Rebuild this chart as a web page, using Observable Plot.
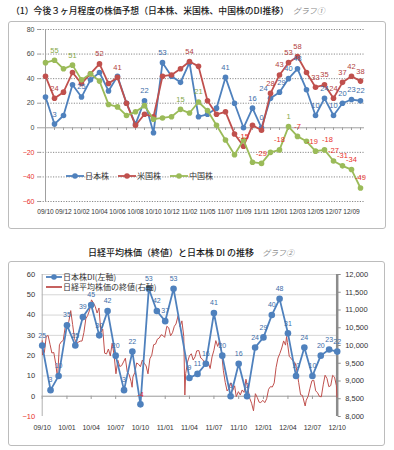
<!DOCTYPE html>
<html><head><meta charset="utf-8">
<script src="https://cdn.jsdelivr.net/npm/d3@7"></script>
<script src="https://cdn.jsdelivr.net/npm/@observablehq/plot@0.6"></script>
<style>
body{margin:0;background:#fff;font-family:"Liberation Sans",Arial,sans-serif;}
#root{position:relative;width:394px;height:450px;overflow:hidden;background:#fff;}
.box{position:absolute;border:1px solid #bcbcbc;border-radius:3px;box-sizing:border-box;}
.title{position:absolute;font-family:"Noto Sans CJK JP";white-space:nowrap;color:#1a1a1a;font-weight:500;line-height:1;}
.sub{color:#8c8c8c;font-style:italic;font-weight:400;}
.chart{position:absolute;}
.legend{position:absolute;font-family:"Noto Sans CJK JP";font-size:8px;color:#333;white-space:nowrap;display:flex;align-items:center;line-height:1;}
.legend svg{display:block;}
</style></head><body>
<div id="root">
  <div class="title" style="left:11px;top:7px;font-size:8.8px;">（1）今後３ヶ月程度の株価予想（日本株、米国株、中国株のDI推移）<span class="sub" style="font-size:8px;margin-left:4px;">グラフ①</span></div>
  <div class="box" style="left:8px;top:21px;width:378px;height:208px;"></div>
  <div id="c1" class="chart" style="left:8px;top:22px;"></div>
  <div id="lg1" class="legend" style="left:66px;top:170px;height:12px;"></div>

  <div class="title" style="left:88px;top:248px;font-size:9px;">日経平均株価（終値）と日本株 DI の推移<span class="sub" style="font-size:8px;margin-left:8px;">グラフ②</span></div>
  <div class="box" style="left:8px;top:261px;width:377px;height:185px;"></div>
  <div id="c2" class="chart" style="left:8px;top:262px;"></div>
  <div id="lg2" class="legend" style="left:46px;top:272px;flex-direction:column;align-items:flex-start;"></div>
</div>
<script>
// ---------- Chart 1 data ----------
const cats1 = ["09/10","09/11","09/12","10/01","10/02","10/03","10/04","10/05","10/06","10/07","10/08","10/09","10/10","10/11","10/12","11/01","11/02","11/04","11/05","11/06","11/07","11/08","11/09","11/10","11/11","11/12","12/01","12/02","12/03","12/04","12/05","12/06","12/07","12/08","12/09","12/10"];
const jp = [25,3,10,35,25,39,45,30,42,20,3,22,-4,53,42,37,53,9,11,16,41,20,0,16,0,24,29,40,48,31,10,24,10,20,23,22];
const us = [42,24,29,45,36,44,52,36,41,20,2,11,9,42,43,48,54,50,22,11,13,-5,-15,2,-2,28,43,53,58,45,33,35,24,37,42,38];
const cn = [53,55,48,51,39,44,38,19,17,10,13,18,7,8,9,15,12,21,14,2,-10,-22,-10,-28,-29,-20,-18,1,-7,-11,-19,-18,-27,-31,-34,-49];
const jpLab = ["09/11","10/02","10/09","10/11","11/07","11/10","11/11","11/12","12/01","12/02","12/03","12/05","12/06","12/07","12/08","12/09","12/10"];
const usLab = ["09/11","10/04","10/06","11/02","11/09","11/12","12/01","12/02","12/03","12/05","12/06","12/07","12/08","12/09","12/10"];
const cnLab = ["09/11","10/01","11/01","11/04","11/11","12/01","12/02","12/03","12/05","12/06","12/07","12/08","12/09","12/10"];
const xTicks1 = ["09/10","09/12","10/02","10/04","10/06","10/08","10/10","10/12","11/02","11/05","11/07","11/09","11/11","12/01","12/03","12/05","12/07","12/09"];
const yTicks1 = [80,60,40,20,0,-20,-40,-60];
const names1 = ["日本株","米国株","中国株"];

// ---------- Chart 2 data ----------
const nkDates = ["2009-10-01","2009-10-02","2009-10-09","2009-10-16","2009-10-23","2009-10-30","2009-11-06","2009-11-13","2009-11-20","2009-11-27","2009-12-04","2009-12-11","2009-12-18","2009-12-25","2009-12-30",
"2010-01-08","2010-01-15","2010-01-22","2010-01-29","2010-02-05","2010-02-12","2010-02-19","2010-02-26","2010-03-05","2010-03-12","2010-03-19","2010-03-26","2010-04-02","2010-04-09","2010-04-16","2010-04-23","2010-04-30","2010-05-07","2010-05-14","2010-05-21","2010-05-28","2010-06-04","2010-06-11","2010-06-18","2010-06-25","2010-07-02","2010-07-09","2010-07-16","2010-07-23","2010-07-30","2010-08-06","2010-08-13","2010-08-20","2010-08-27","2010-08-31","2010-09-03","2010-09-10","2010-09-17","2010-09-24","2010-10-01","2010-10-08","2010-10-15","2010-10-22","2010-10-29","2010-11-05","2010-11-12","2010-11-19","2010-11-26","2010-12-03","2010-12-10","2010-12-17","2010-12-24","2010-12-30",
"2011-01-07","2011-01-14","2011-01-21","2011-01-28","2011-02-04","2011-02-10","2011-02-18","2011-02-25","2011-03-04","2011-03-11","2011-03-15","2011-03-18","2011-03-25","2011-04-01","2011-04-08","2011-04-15","2011-04-22","2011-04-28","2011-05-06","2011-05-13","2011-05-20","2011-05-27","2011-06-03","2011-06-10","2011-06-17","2011-06-24","2011-07-01","2011-07-08","2011-07-15","2011-07-22","2011-07-29","2011-08-05","2011-08-12","2011-08-19","2011-08-26","2011-09-02","2011-09-09","2011-09-16","2011-09-22","2011-09-30","2011-10-07","2011-10-14","2011-10-21","2011-10-28","2011-11-04","2011-11-11","2011-11-18","2011-11-25","2011-12-02","2011-12-09","2011-12-16","2011-12-22","2011-12-30",
"2012-01-06","2012-01-13","2012-01-20","2012-01-27","2012-02-03","2012-02-10","2012-02-17","2012-02-24","2012-03-02","2012-03-09","2012-03-16","2012-03-23","2012-03-27","2012-03-30","2012-04-06","2012-04-13","2012-04-20","2012-04-27","2012-05-02","2012-05-11","2012-05-18","2012-05-25","2012-06-04","2012-06-08","2012-06-15","2012-06-22","2012-06-29","2012-07-06","2012-07-13","2012-07-20","2012-07-27","2012-08-03","2012-08-10","2012-08-17","2012-08-24","2012-08-31","2012-09-07","2012-09-14","2012-09-21","2012-09-28","2012-09-30"];
const nkClose = [10133,9731,9799,10258,10282,10034,9789,9804,9497,9081,10022,10107,10142,10494,10546,
10681,10982,10590,10198,10057,10092,10123,10126,10368,10751,10846,10996,11286,11204,11102,10914,11057,10364,10462,9784,9762,9901,9705,10067,9737,9203,9585,9408,9431,9537,9642,9253,9179,8991,8824,9114,9239,9509,9471,9404,9589,9501,9426,9202,9625,9725,10022,10040,10179,10212,10303,10279,10229,
10541,10499,10274,10360,10543,10605,10842,10527,10694,10254,8605,9207,9536,9708,9768,9591,9682,9849,9859,9648,9607,9521,9492,9514,9351,9678,9868,10137,9974,10132,9833,9299,8963,8719,8797,8950,8737,8864,8560,8700,8605,8747,8678,9050,8801,8514,8374,8160,8643,8536,8401,8395,8455,
8390,8500,8766,8841,8831,8947,9384,9647,9777,9929,10129,10011,10255,10083,9688,9637,9561,9520,9380,8953,8611,8593,8296,8459,8569,8798,9006,9021,8724,8669,8566,8555,8891,9163,9070,8839,8871,9159,9110,8870,8550];
const xTicks2 = ["2009-10-01","2010-01-01","2010-04-01","2010-07-01","2010-10-01","2011-01-01","2011-04-01","2011-07-01","2011-10-01","2012-01-01","2012-04-01","2012-07-01","2012-10-01"];
const yTicks2 = [60,50,40,30,20,10,0,-10];
const rightTicks = [8000,8500,9000,9500,10000,10500,11000,11500,12000];
const names2 = ["日本株DI(左軸)","日経平均株価の終値(右軸)"];

// ---------- styles ----------
const BLUE="#4f81bd", RED="#c0504d", GREEN="#9bbb59";
const NEG="#e8302c";
// small label nudges (px) to keep crowded labels legible
const nudge = {"jp|11/12":-7, "jp|12/01":2, "cn|12/05":-3, "cn|12/06":3};

// ---------- Chart 1 ----------
const mk = (arr,key) => cats1.map((c,i)=>({cat:c, v:arr[i], key}));
const dJP = mk(jp,"jp"), dUS = mk(us,"us"), dCN = mk(cn,"cn");
function labelMarks(d, list, col){
  const L = d.filter(r => list.includes(r.cat));
  const groups = d3.groups(L, r => (nudge[r.key+"|"+r.cat]||0) + "|" + (r.v<0));
  return groups.map(([g, rows]) => Plot.text(rows, {
    x:"cat", y:"v", text:r=>String(r.v), dy:-10, dx:+g.split("|")[0],
    fill: rows[0].v<0 ? NEG : col, fontSize:7.5}));
}
const c1 = Plot.plot({
  width:377, height:206, marginLeft:32, marginRight:21, marginTop:7, marginBottom:27,
  style:{fontFamily:"Liberation Sans, Arial, sans-serif", fontSize:"7px", color:"#333", background:"transparent", overflow:"visible"},
  x:{type:"point", domain:cats1, padding:0, label:null},
  y:{domain:[-60,80], label:null},
  marks:[
    Plot.gridY({ticks:yTicks1.filter(t=>t!==0), stroke:"#8a8a8a", strokeOpacity:1, strokeDasharray:"1.2,1.4"}),
    Plot.ruleY([0], {stroke:"#a0a0a0"}),
    Plot.ruleX(cats1, {y1:0, y2:-2.2, stroke:"#a0a0a0"}),
    Plot.ruleX([cats1[0]], {stroke:"#a0a0a0"}),
    Plot.axisY({ticks:yTicks1.filter(t=>t>=0), label:null, tickSize:3, tickPadding:3, fill:"#444", stroke:"#a0a0a0", fontSize:7}),
    Plot.axisY({ticks:yTicks1.filter(t=>t<0), label:null, tickSize:3, tickPadding:3, fill:NEG, stroke:"#a0a0a0", fontSize:7}),
    Plot.axisX({ticks:xTicks1, label:null, tickSize:0, tickPadding:8, fill:"#333", fontSize:6.6}),
    Plot.line(dJP, {x:"cat", y:"v", stroke:BLUE, strokeWidth:1.8}),
    Plot.dot(dJP, {x:"cat", y:"v", r:2.8, fill:BLUE}),
    Plot.line(dUS, {x:"cat", y:"v", stroke:RED, strokeWidth:1.8}),
    Plot.dot(dUS, {x:"cat", y:"v", r:2.8, fill:RED}),
    Plot.line(dCN, {x:"cat", y:"v", stroke:GREEN, strokeWidth:1.8}),
    Plot.dot(dCN, {x:"cat", y:"v", r:2.8, fill:GREEN}),
    ...labelMarks(dJP, jpLab, "#3d6da8"),
    ...labelMarks(dUS, usLab, "#b2413e"),
    ...labelMarks(dCN, cnLab, "#86a84a")
  ]
});
document.getElementById("c1").append(c1);

// legend 1
const icon = (col, w, dot) => `<svg width="${w}" height="8"><line x1="0" y1="4" x2="${w}" y2="4" stroke="${col}" stroke-width="1.8"/>${dot?`<circle cx="${w/2}" cy="4" r="2.8" fill="${col}"/>`:""}</svg>`;
document.getElementById("lg1").innerHTML = [BLUE,RED,GREEN].map((c,i)=>
  `<span style="display:flex;align-items:center;margin-right:${i<2?9:0}px">${icon(c,18,true)}<span style="margin-left:1px">${names1[i]}</span></span>`).join("");

// ---------- Chart 2 ----------
const toLeft = p => -10 + (p - 8000) / 4000 * 70;
const fromLeft = v => 8000 + (v + 10) / 70 * 4000;
const parseM = d3.utcParse("%y/%m");
const di = cats1.map((c,i)=>({date:parseM(c), v:jp[i]}));
const nk = nkDates.map((d,i)=>({date:new Date(d), v:toLeft(nkClose[i])}));
const xT2 = xTicks2.map(d=>new Date(d));
const d0 = xT2[0], d1 = xT2[xT2.length-1];
const c2 = Plot.plot({
  width:377, height:183, marginLeft:33.7, marginRight:48.3, marginTop:12, marginBottom:29,
  style:{fontFamily:"Liberation Sans, Arial, sans-serif", fontSize:"7px", color:"#333", background:"transparent", overflow:"visible"},
  x:{type:"utc", domain:[d0,d1], label:null},
  y:{domain:[-10,60], label:null},
  marks:[
    Plot.gridY({ticks:yTicks2.filter(t=>t>0), stroke:"#d6d6d6", strokeOpacity:1}),
    Plot.ruleY([0], {stroke:"#9a9a9a"}),
    Plot.ruleX(xT2, {y1:0, y2:-1.6, stroke:"#9a9a9a"}),
    Plot.ruleX([d0], {stroke:"#b0b0b0"}),
    Plot.ruleX([d1], {stroke:"#8c8c8c", strokeWidth:2.5}),
    Plot.axisX({ticks:xT2, label:null, tickFormat:d3.utcFormat("%y/%m"), tickSize:0, tickPadding:8.5, fill:"#333", fontSize:7}),
    Plot.axisY({ticks:yTicks2.filter(t=>t>=0), label:null, tickSize:0, tickPadding:7, fill:"#333", fontSize:7.5}),
    Plot.axisY({ticks:yTicks2.filter(t=>t<0), label:null, tickSize:0, tickPadding:7, fill:NEG, fontSize:7.5}),
    Plot.axisY({anchor:"right", label:null, ticks:rightTicks.map(toLeft), tickFormat:d=>d3.format(",")(Math.round(fromLeft(d))), tickSize:3, tickPadding:5, stroke:"#8c8c8c", fill:"#333", fontSize:7.5}),
    Plot.line(nk, {x:"date", y:"v", stroke:RED, strokeWidth:1}),
    Plot.line(di, {x:"date", y:"v", stroke:BLUE, strokeWidth:1.8}),
    Plot.dot(di, {x:"date", y:"v", r:3.3, fill:BLUE}),
    Plot.text(di.filter(r=>r.v>=0), {x:"date", y:"v", text:r=>String(r.v), dy:-10, fill:"#3d6da8", fontSize:7}),
    Plot.text(di.filter(r=>r.v<0), {x:"date", y:"v", text:r=>String(r.v), dy:-10, fill:NEG, fontSize:7})
  ]
});
document.getElementById("c2").append(c2);

document.getElementById("lg2").innerHTML =
  `<span style="display:flex;align-items:center;height:9px">${icon(BLUE,16,true)}<span style="margin-left:1px">${names2[0]}</span></span>` +
  `<span style="display:flex;align-items:center;height:9px;margin-top:1px">${icon(RED,16,false)}<span style="margin-left:1px">${names2[1]}</span></span>`;
</script>
</body></html>
